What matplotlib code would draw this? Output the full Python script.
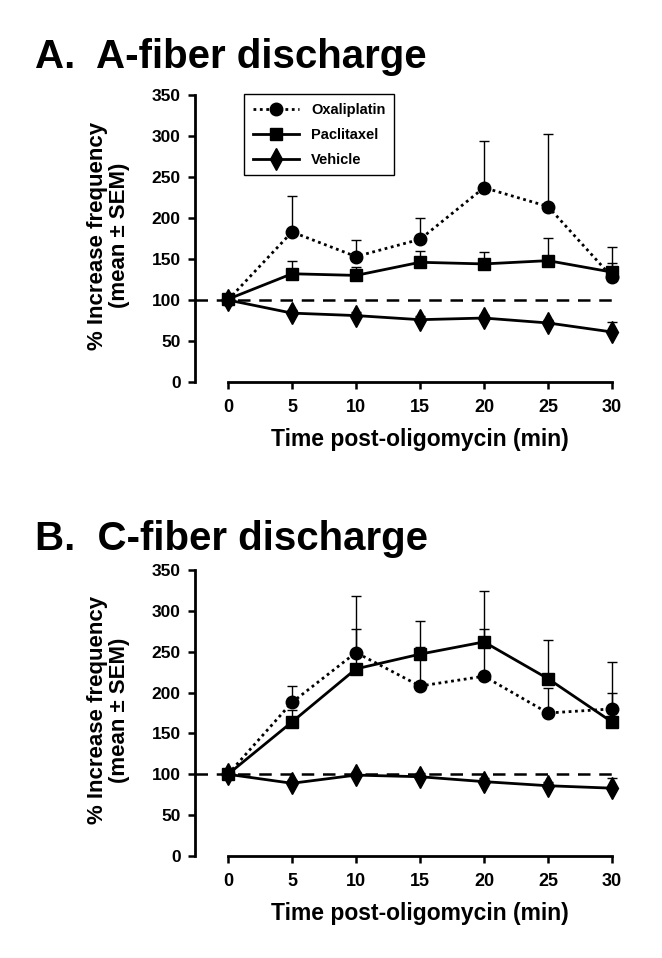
import matplotlib
matplotlib.use("Agg")
import matplotlib.pyplot as plt
import numpy as np

plt.rcParams["font.family"] = ["Liberation Sans", "DejaVu Sans"]
plt.rcParams["font.weight"] = "bold"

time_min = [0, 5, 10, 15, 20, 25, 30]

# panel A: A-fiber
a_oxa = [100, 183, 153, 174, 237, 214, 128]
a_oxa_err = [0, 44, 20, 26, 57, 88, 37]
a_pac = [101, 132, 130, 146, 144, 148, 134]
a_pac_err = [0, 16, 10, 14, 15, 27, 11]
a_veh = [100, 84, 81, 76, 78, 72, 61]
a_veh_err = [0, 4, 4, 4, 4, 4, 12]

# panel B: C-fiber
b_oxa = [100, 188, 249, 208, 220, 175, 180]
b_oxa_err = [0, 20, 69, 48, 58, 30, 57]
b_pac = [100, 164, 229, 247, 262, 217, 164]
b_pac_err = [0, 15, 49, 40, 62, 47, 35]
b_veh = [100, 89, 99, 97, 91, 86, 83]
b_veh_err = [0, 4, 4, 4, 4, 4, 12]

W, H = 662, 958
fig = plt.figure(figsize=(W / 100, H / 100), dpi=100)

def fx(px): return px / W
def fy(px): return 1 - px / H

def panel(top, bottom, oxa, oxa_e, pac, pac_e, veh, veh_e, legend=False):
    left = 194.7
    width = 425
    ax = fig.add_axes([fx(left), fy(bottom), width / W, (bottom - top) / H])
    ax.set_xlim(-2.6, 30.6)
    ax.set_ylim(0, 350)
    ax.axhline(100, color="black", lw=1.8, ls=(0, (5, 3.5)), zorder=1)
    for y, e in [(oxa, oxa_e), (pac, pac_e), (veh, veh_e)]:
        y = np.array(y, float); e = np.array(e, float)
        ax.errorbar(time_min, y, yerr=[np.zeros_like(e), e], fmt="none",
                    ecolor="black", elinewidth=1.0, capsize=3.5, capthick=1.0,
                    zorder=2)
    l1, = ax.plot(time_min, oxa, color="black", lw=2.0, ls=(0, (1, 1.3)),
                  marker="o", ms=9, zorder=3, clip_on=False)
    l2, = ax.plot(time_min, pac, color="black", lw=2.0, marker="s", ms=8,
                  zorder=3, clip_on=False)
    l3, = ax.plot(time_min, veh, color="black", lw=2.0, marker="d", ms=11,
                  zorder=3, clip_on=False)
    for s in ["top", "right"]:
        ax.spines[s].set_visible(False)
    ax.spines["left"].set_linewidth(2.0)
    ax.spines["bottom"].set_linewidth(2.0)
    ax.spines["left"].set_bounds(0, 350)
    ax.spines["bottom"].set_bounds(0, 30)
    ax.set_xticks(time_min)
    ax.set_yticks(range(0, 351, 50))
    ax.tick_params(direction="out", width=1.8, length=5, labelsize=12.5, pad=5)
    ax.tick_params(axis="x", pad=7, labelsize=13)
    for t in ax.get_xticklabels() + ax.get_yticklabels():
        t.set_fontweight("bold")
    ax.set_xlabel("Time post-oligomycin (min)", fontsize=16.5, fontweight="bold",
                  labelpad=9)
    ax.xaxis.label.set_x((420 - left) / width)
    ax.set_ylabel("% Increase frequency\n(mean \u00b1 SEM)", fontsize=16,
                  fontweight="bold", linespacing=1.05)
    ax.yaxis.set_label_coords((130 - left) / width, 0.51)
    if legend:
        leg = ax.legend([l1, l2, l3], ["Oxaliplatin", "Paclitaxel", "Vehicle"],
                        loc="upper left",
                        bbox_to_anchor=((244 - left) / width, (bottom - 94) / (bottom - top)),
                        borderaxespad=0, fancybox=False, edgecolor="black",
                        framealpha=1, prop={"weight": "bold", "size": 10.5},
                        handlelength=3.2, borderpad=0.6, labelspacing=0.75)
        leg.get_frame().set_linewidth(1.0)
    return ax

panel(95, 382, a_oxa, a_oxa_err, a_pac, a_pac_err, a_veh, a_veh_err, legend=True)
panel(570, 856, b_oxa, b_oxa_err, b_pac, b_pac_err, b_veh, b_veh_err)

fig.text(fx(35), fy(68), "A.  A-fiber discharge", fontsize=29, fontweight="bold",
         va="baseline")
fig.text(fx(35), fy(550), "B.  C-fiber discharge", fontsize=29, fontweight="bold",
         va="baseline")

fig.savefig("out.png", dpi=100)
